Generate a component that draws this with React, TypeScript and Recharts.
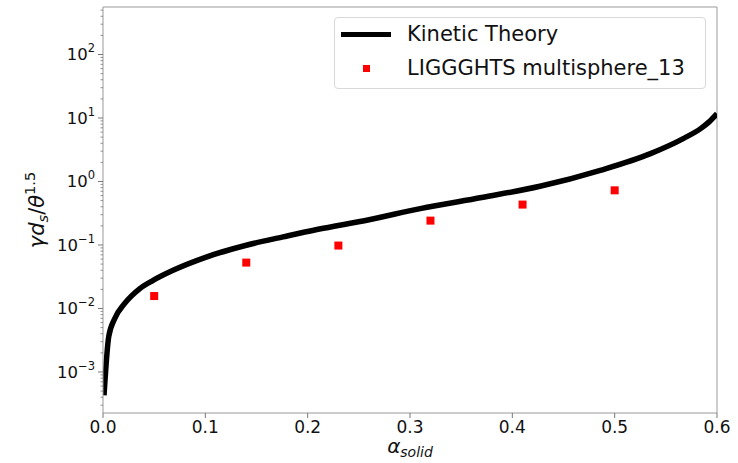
import React from "react";
import {
  ComposedChart,
  Line,
  Scatter,
  XAxis,
  YAxis,
  Legend,
  ReferenceLine,
} from "recharts";

// kinetic theory curve
const kineticAlpha = [
  0.001, 0.0056, 0.0114, 0.021, 0.036, 0.049, 0.0685, 0.0995, 0.14, 0.176,
  0.209, 0.26, 0.31, 0.37, 0.427, 0.486, 0.535, 0.567, 0.584, 0.592, 0.6,
];
const kineticGamma = [
  4.3e-4, 3.6e-3, 6.9e-3, 0.0119, 0.0206, 0.0278, 0.04, 0.0634, 0.099, 0.134,
  0.175, 0.25, 0.374, 0.56, 0.84, 1.5, 2.75, 4.74, 6.8, 8.6, 11.7,
];

// LIGGGHTS multisphere_13 points
const simAlpha = [0.05, 0.14, 0.23, 0.32, 0.41, 0.5];
const simGamma = [0.0157, 0.0528, 0.098, 0.242, 0.433, 0.726];

const xTicks = [0, 0.1, 0.2, 0.3, 0.4, 0.5, 0.6];
const yMajor = [1e-3, 1e-2, 1e-1, 1, 10, 100];

const Y_MIN = Math.pow(10, -3.646);
const Y_MAX = Math.pow(10, 2.748);

const yTicks: number[] = [];
for (let e = -4; e <= 2; e++) {
  for (let m = 1; m <= 9; m++) {
    const v = m * Math.pow(10, e);
    if (v >= Y_MIN && v <= Y_MAX) yTicks.push(v);
  }
}

const kineticData = kineticAlpha.map((x, i) => ({ x, y: kineticGamma[i] }));
const simData = simAlpha.map((x, i) => ({ x, y: simGamma[i] }));

const FONT = "DejaVu Sans, sans-serif";
const SPINE = "#999";
const TEXT = "#111";

function YTick({ x, y, payload }: any) {
  const v = payload.value;
  const e = Math.round(Math.log10(v));
  const major = yMajor.some((m) => Math.abs(m - v) < m * 1e-6);
  return (
    <g>
      <line x1={x} x2={x - (major ? 5 : 2.5)} y1={y} y2={y} stroke="#777" strokeWidth={major ? 1 : 0.8} />
      {major && (
        <text x={x - 8} y={y} dy={6} textAnchor="end" fontSize={16.5} fontFamily={FONT} fill={TEXT}>
          10
          <tspan dy={-8} fontSize={11.5}>
            {e < 0 ? "\u2212" + Math.abs(e) : String(e)}
          </tspan>
        </text>
      )}
    </g>
  );
}

function XTick({ x, y, payload }: any) {
  return (
    <g>
      <line x1={x} x2={x} y1={y} y2={y + 5} stroke="#777" />
      <text x={x} y={y} dy={20} textAnchor="middle" fontSize={17} fontFamily={FONT} fill={TEXT}>
        {payload.value.toFixed(1)}
      </text>
    </g>
  );
}

function XLabel({ viewBox }: any) {
  const cx = viewBox.x + viewBox.width / 2;
  return (
    <text x={cx} y={453} textAnchor="middle" fontFamily={FONT} fill={TEXT} fontStyle="italic">
      <tspan fontSize={20}>α</tspan>
      <tspan fontSize={14} dy={4}>solid</tspan>
    </text>
  );
}

function YLabel({ viewBox }: any) {
  const cy = viewBox.y + viewBox.height / 2;
  const lx = 44;
  return (
    <text
      x={lx}
      y={cy}
      textAnchor="middle"
      fontFamily={FONT}
      fill={TEXT}
      fontSize={21}
      transform={`rotate(-90, ${lx}, ${cy})`}
    >
      <tspan fontStyle="italic">γd</tspan>
      <tspan fontStyle="italic" fontSize={14.5} dy={4}>s</tspan>
      <tspan dy={-4}>/</tspan>
      <tspan fontStyle="italic">θ</tspan>
      <tspan fontSize={14.5} dy={-9}>1.5</tspan>
    </text>
  );
}

function LegendBox() {
  const row: React.CSSProperties = {
    position: "absolute",
    left: 72,
    fontSize: 21,
    fontFamily: FONT,
    color: TEXT,
    lineHeight: "24px",
    whiteSpace: "nowrap",
  };
  return (
    <div
      style={{
        position: "relative",
        width: 372,
        height: 72,
        boxSizing: "border-box",
        border: "1px solid #d9d9d9",
        borderRadius: 4,
        background: "rgba(255,255,255,0.8)",
      }}
    >
      <div style={{ position: "absolute", left: 6, top: 14, width: 50, height: 5, background: "#000" }} />
      <div style={{ ...row, top: 4 }}>Kinetic Theory</div>
      <div style={{ position: "absolute", left: 28, top: 47, width: 7, height: 7, background: "#ff0000" }} />
      <div style={{ ...row, top: 38 }}>LIGGGHTS multisphere_13</div>
    </div>
  );
}

const Square = ({ cx, cy }: any) => <rect x={cx - 4} y={cy - 4} width={8} height={8} fill="#ff0000" />;

export default function App() {
  return (
    <div style={{ position: "absolute", left: 0, top: 0, background: "#fff" }}>
      <ComposedChart width={738} height={463} margin={{ top: 7, right: 21, bottom: 0, left: 0 }}>
        <XAxis
          type="number"
          dataKey="x"
          domain={[0, 0.6]}
          ticks={xTicks}
          allowDataOverflow
          interval={0}
          height={50}
          stroke={SPINE}
          tickSize={0}
          tickMargin={0}
          tickLine={false}
          tick={<XTick />}
          label={{ content: (p: any) => <XLabel {...p} /> }}
        />
        <YAxis
          type="number"
          dataKey="y"
          scale="log"
          domain={[Y_MIN, Y_MAX]}
          ticks={yTicks}
          allowDataOverflow
          interval={0}
          width={103}
          stroke={SPINE}
          tickSize={0}
          tickMargin={0}
          tickLine={false}
          tick={<YTick />}
          label={{ content: (p: any) => <YLabel {...p} /> }}
        />
        <ReferenceLine x={0.6} stroke={SPINE} />
        <ReferenceLine y={Y_MAX} stroke={SPINE} />
        <Line
          data={kineticData}
          dataKey="y"
          type="monotone"
          stroke="#000"
          strokeWidth={5.5}
          dot={false}
          isAnimationActive={false}
          name="Kinetic Theory"
        />
        <Scatter
          data={simData}
          dataKey="y"
          fill="#ff0000"
          shape={<Square />}
          isAnimationActive={false}
          name="LIGGGHTS multisphere_13"
        />
        <Legend
          layout="horizontal"
          verticalAlign="middle"
          align="center"
          wrapperStyle={{ top: 17, left: 334, width: 372, height: 72 }}
          content={() => <LegendBox />}
        />
      </ComposedChart>
    </div>
  );
}
